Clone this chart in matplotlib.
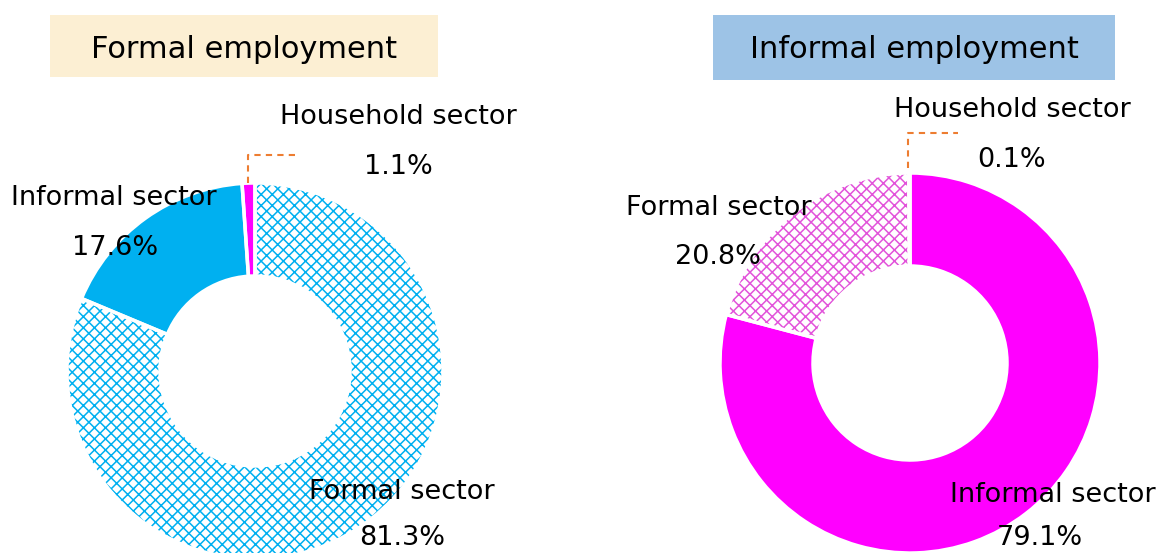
import matplotlib
matplotlib.use("Agg")
import matplotlib.pyplot as plt
from matplotlib.patches import Rectangle

plt.rcParams['font.family'] = ['DejaVu Sans']
plt.rcParams['hatch.linewidth'] = 1.1

# data
sectors = ["Formal sector", "Informal sector", "Household sector"]
formal_emp = [81.3, 17.6, 1.1]
informal_sectors = ["Informal sector", "Formal sector", "Household sector"]
informal_emp = [79.1, 20.8, 0.1]
titles = ["Formal employment", "Informal employment"]

BLUE = "#00B0F0"
MAGENTA = "#FF00FF"
ORANGE = "#ED7D31"

W, H = 1157, 553
fig = plt.figure(figsize=(W/100, H/100), dpi=100)
ax = fig.add_axes([0, 0, 1, 1])

def donut(vals, center, r, styles):
    # styles: list of (facecolor, hatchcolor or None)
    wedges, _ = ax.pie(vals, center=center, radius=r, startangle=90, counterclock=False,
                       wedgeprops=dict(width=93, linewidth=0), frame=True)
    for w, (fc, hc) in zip(wedges, styles):
        if hc:
            w.set_facecolor("white"); w.set_edgecolor(hc); w.set_hatch("xxx")
        else:
            w.set_facecolor(fc); w.set_edgecolor(fc)
    # white separators
    ax.pie(vals, center=center, radius=r, startangle=90, counterclock=False,
           wedgeprops=dict(width=93, linewidth=2.5, edgecolor="white", facecolor="none"), frame=True)

cL = (255, H - 371)
cR = (910, H - 363)
donut(formal_emp, cL, 188, [(None, BLUE), (BLUE, None), (MAGENTA, None)])
donut(informal_emp, cR, 190, [(MAGENTA, None), (None, "#E254DA"), (MAGENTA, None)])
ax.set_xlim(0, W); ax.set_ylim(0, H)
ax.set_aspect("auto")
ax.axis("off")

# title boxes
ax.add_patch(Rectangle((50, H - 77), 388, 62, facecolor="#FCEFD3", edgecolor="none"))
ax.add_patch(Rectangle((713, H - 80), 402, 65, facecolor="#9DC3E6", edgecolor="none"))
ax.text(244, H - 49, titles[0], ha="center", va="center", fontsize=22)
ax.text(914, H - 49, titles[1], ha="center", va="center", fontsize=22)

def lab(x, y, name, pct_x, pct_y, pct):
    ax.text(x, H - y, name, ha="center", va="center", fontsize=19.5)
    ax.text(pct_x, H - pct_y, f"{pct}%", ha="center", va="center", fontsize=19.5)

lab(398, 117, sectors[2], 398, 167, formal_emp[2])
lab(114, 198, sectors[1], 115, 248, formal_emp[1])
lab(402, 492, sectors[0], 402, 538, formal_emp[0])

lab(1012, 110, informal_sectors[2], 1012, 160, informal_emp[2])
lab(719, 208, informal_sectors[1], 718, 257, informal_emp[1])
lab(1053, 495, informal_sectors[0], 1040, 538, informal_emp[0])

# leader lines
ax.plot([248, 248, 298], [H - 183, H - 155, H - 155], ls=(0, (3, 2.5)), color=ORANGE, lw=1.5)
ax.plot([908, 908, 958], [H - 168, H - 133, H - 133], ls=(0, (3, 2.5)), color=ORANGE, lw=1.5)

fig.savefig("out.png", dpi=100)
